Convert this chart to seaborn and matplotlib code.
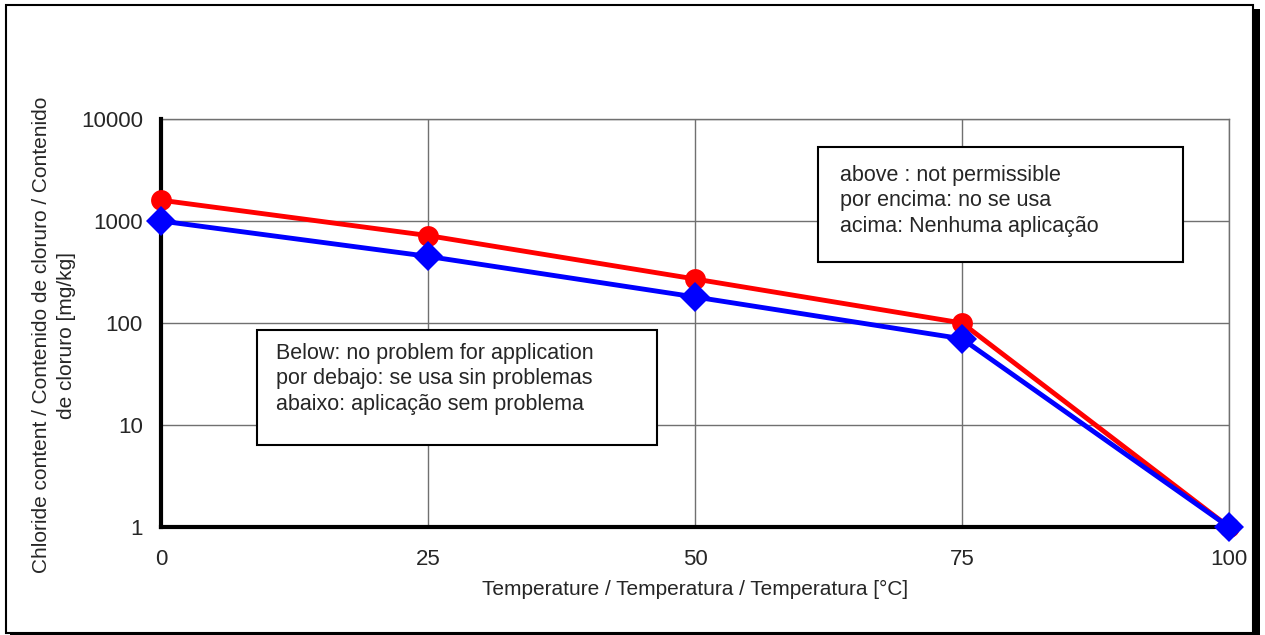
import matplotlib
matplotlib.use("Agg")
import matplotlib.pyplot as plt
import matplotlib.ticker as mticker
from matplotlib.patches import Rectangle
import pandas as pd
import seaborn as sns

# Data
temperature = [0, 25, 50, 75, 100]
upper_limit = [1600, 720, 270, 100, 1]   # red circles
lower_limit = [1000, 450, 180, 70, 1]    # blue diamonds
series_names = ["upper", "lower"]
x_ticks = [0, 25, 50, 75, 100]
y_ticks = [1, 10, 100, 1000, 10000]

df = pd.DataFrame({
    "Temperature": temperature * 2,
    "Chloride": upper_limit + lower_limit,
    "series": [series_names[0]] * len(temperature) + [series_names[1]] * len(temperature),
})

sns.set_style("white")
plt.rcParams["font.family"] = ["Liberation Sans", "DejaVu Sans"]

fig = plt.figure(figsize=(12.65, 6.35), dpi=100)
W, H = 1265, 635

# Outer frame with shadow
fig.patches.append(Rectangle((10 / W, 0 / H), 1250 / W, 626 / H, transform=fig.transFigure,
                             facecolor="black", edgecolor="none", zorder=0))
fig.patches.append(Rectangle((6 / W, 2 / H), 1247 / W, 628 / H, transform=fig.transFigure,
                             facecolor="white", edgecolor="black", linewidth=1.5, zorder=1))

ax = fig.add_axes([161 / W, 1 - 527 / H, (1229 - 161) / W, (527 - 119) / H])
ax.set_facecolor("none")
ax.set_zorder(2)

sns.lineplot(data=df, x="Temperature", y="Chloride", hue="series", style="series",
             hue_order=series_names, style_order=series_names,
             palette={"upper": "#ff0000", "lower": "#0000ff"},
             markers={"upper": "o", "lower": "D"}, dashes=False,
             linewidth=3.5, markersize=15, markeredgewidth=0, legend=False, ax=ax,
             zorder=5, clip_on=False)

ax.set_yscale("log")
ax.set_xlim(0, 100)
ax.set_ylim(1, 10000)
ax.set_xticks(x_ticks)
ax.set_yticks(y_ticks)
ax.yaxis.set_major_formatter(mticker.FuncFormatter(lambda v, p: f"{int(v)}"))
ax.yaxis.set_minor_locator(mticker.NullLocator())

ax.grid(True, color="#707070", linewidth=1.0, zorder=0)
ax.set_axisbelow(True)
for side in ["top", "right"]:
    ax.spines[side].set_color("#707070")
    ax.spines[side].set_linewidth(1.0)
for side in ["left", "bottom"]:
    ax.spines[side].set_color("black")
    ax.spines[side].set_linewidth(3)
    ax.spines[side].set_zorder(4)
ax.tick_params(axis="both", direction="out", length=5, width=3, color="black",
               labelsize=16, pad=8)
ax.tick_params(axis="x", pad=11)

ax.set_xlabel("Temperature / Temperatura / Temperatura [°C]", fontsize=15, labelpad=7)
ax.set_ylabel("Chloride content / Contenido de cloruro / Contenido\nde cloruro [mg/kg]",
              fontsize=15, linespacing=1.4)
ax.yaxis.set_label_coords(-0.08, 0.47)

# Annotation boxes
ax.add_patch(Rectangle((0.0899, 0.201), 0.4645 - 0.0899, 0.4828 - 0.201, transform=ax.transAxes,
                       facecolor="white", edgecolor="black", linewidth=1.5, zorder=3))
ax.text(0.1077, 0.452, "Below: no problem for application\npor debajo: se usa sin problemas\n"
        "abaixo: aplicação sem problema", transform=ax.transAxes, ha="left", va="top",
        fontsize=15.5, linespacing=1.3, zorder=4)

ax.add_patch(Rectangle((0.615, 0.6495), 0.957 - 0.615, 0.931 - 0.6495, transform=ax.transAxes,
                       facecolor="white", edgecolor="black", linewidth=1.5, zorder=3))
ax.text(0.6358, 0.888, "above : not permissible\npor encima: no se usa\nacima: Nenhuma aplicação",
        transform=ax.transAxes, ha="left", va="top", fontsize=15.5, linespacing=1.3, zorder=4)

fig.savefig("out.png", dpi=100)
